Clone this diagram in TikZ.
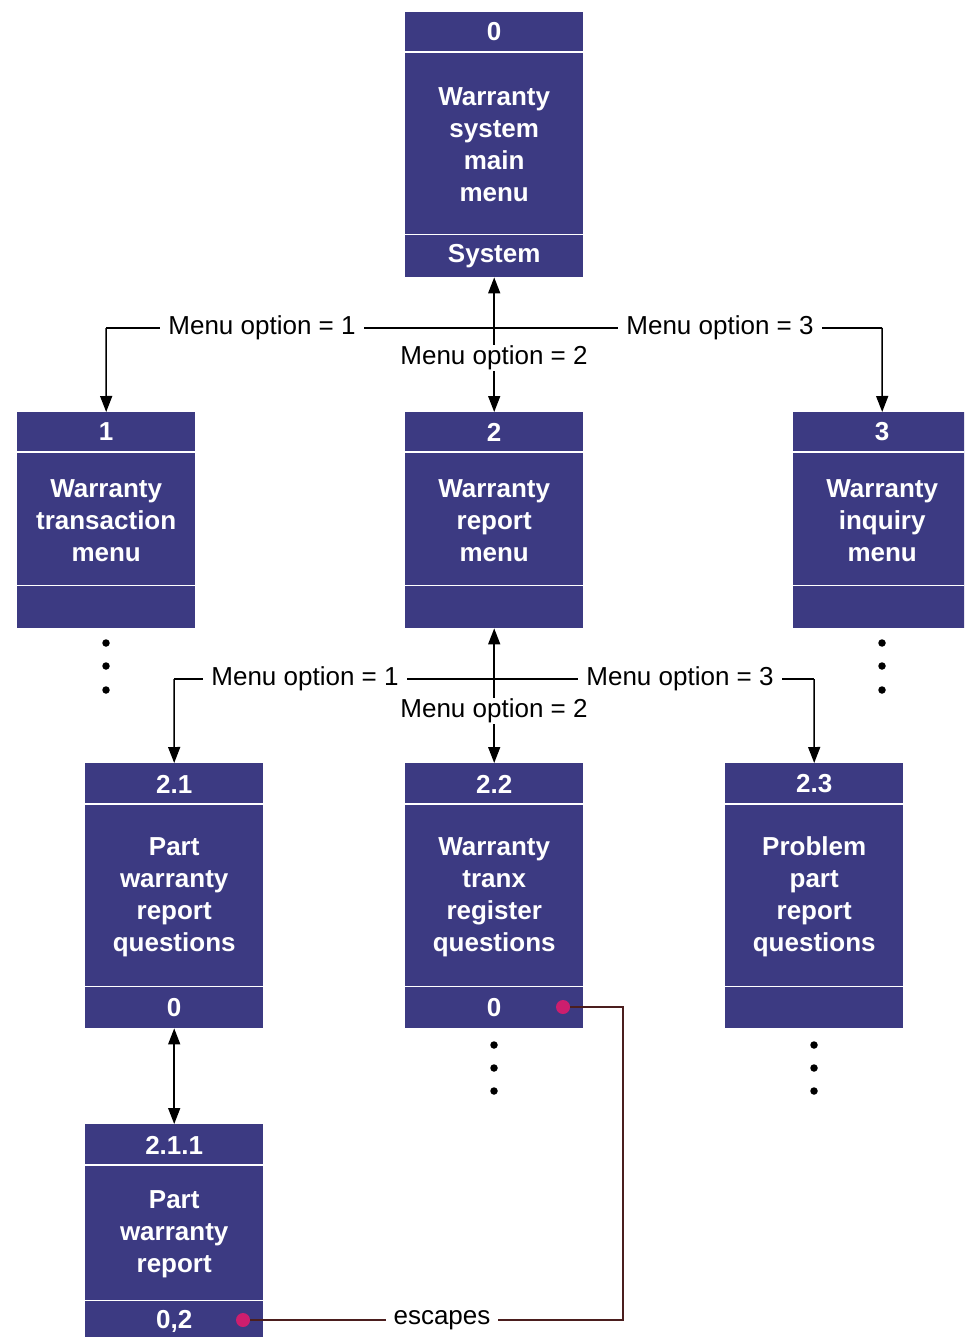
\documentclass[tikz,border=0pt]{standalone}
\usepackage{fontspec}
\setmainfont{Liberation Sans}
\usetikzlibrary{arrows.meta}
\definecolor{boxblue}{RGB}{60,58,130}
\definecolor{escline}{RGB}{75,30,30}
\definecolor{pinkdot}{RGB}{205,30,110}
\begin{document}
\begin{tikzpicture}[x=1pt,y=-1pt,
  mbox/.style={draw=none, fill=boxblue, minimum width=178pt, inner sep=0pt, anchor=north west},
  sepline/.style={white, line width=1.3pt},
  btext/.style={text=white, font=\bfseries\fontsize{26}{32}\selectfont, align=center, inner sep=0pt},
  lbl/.style={font=\fontsize{26}{30}\selectfont, fill=white, inner xsep=8pt, inner ysep=1pt},
  plainline/.style={line width=1.5pt},
  conn/.style={line width=1.5pt, -{Triangle[length=16pt,width=12pt]}},
  dconn/.style={line width=1.5pt, {Triangle[length=16pt,width=12pt]}-{Triangle[length=16pt,width=12pt]}},
  dotn/.style={circle, fill=black, inner sep=0pt, minimum size=7.5pt},
  pdot/.style={circle, fill=pinkdot, inner sep=0pt, minimum size=14pt},
  escl/.style={escline, line width=1.4pt}]
\useasboundingbox (0,0) rectangle (964,1337);
\clip (0,0) rectangle (964,1337);
\fill[white] (0,0) rectangle (964,1337);

% ---------- boxes ----------
% box 0
\node[mbox, minimum height=265pt] (b0) at (405,12) {};
\draw[sepline] ([yshift=-40pt]b0.north west) -- ([yshift=-40pt]b0.north east);
\draw[sepline] ([yshift=43pt]b0.south west) -- ([yshift=43pt]b0.south east);
\node[btext] (b0h) at ([yshift=-20pt]b0.north) {0};
\node[btext] (b0m) at ([yshift=-133pt]b0.north) {Warranty\\system\\main\\menu};
\node[btext] (b0f) at ([yshift=21pt]b0.south) {System};

% box 1
\node[mbox, minimum height=216pt] (b1) at (17,412) {};
\draw[sepline] ([yshift=-40pt]b1.north west) -- ([yshift=-40pt]b1.north east);
\draw[sepline] ([yshift=43pt]b1.south west) -- ([yshift=43pt]b1.south east);
\node[btext] (b1h) at ([yshift=-20pt]b1.north) {1};
\node[btext] (b1m) at ([yshift=-109pt]b1.north) {Warranty\\transaction\\menu};

% box 2
\node[mbox, minimum height=216pt] (b2) at (405,412) {};
\draw[sepline] ([yshift=-40pt]b2.north west) -- ([yshift=-40pt]b2.north east);
\draw[sepline] ([yshift=43pt]b2.south west) -- ([yshift=43pt]b2.south east);
\node[btext] (b2h) at ([yshift=-20pt]b2.north) {2};
\node[btext] (b2m) at ([yshift=-109pt]b2.north) {Warranty\\report\\menu};

% box 3
\node[mbox, minimum height=216pt] (b3) at (793,412) {};
\draw[sepline] ([yshift=-40pt]b3.north west) -- ([yshift=-40pt]b3.north east);
\draw[sepline] ([yshift=43pt]b3.south west) -- ([yshift=43pt]b3.south east);
\node[btext] (b3h) at ([yshift=-20pt]b3.north) {3};
\node[btext] (b3m) at ([yshift=-109pt]b3.north) {Warranty\\inquiry\\menu};

% box 2.1
\node[mbox, minimum height=265pt] (b21) at (85,763) {};
\draw[sepline] ([yshift=-41pt]b21.north west) -- ([yshift=-41pt]b21.north east);
\draw[sepline] ([yshift=42pt]b21.south west) -- ([yshift=42pt]b21.south east);
\node[btext] (b21h) at ([yshift=-21pt]b21.north) {2.1};
\node[btext] (b21m) at ([yshift=-134pt]b21.north) {Part\\warranty\\report\\questions};
\node[btext] (b21f) at ([yshift=21pt]b21.south) {0};

% box 2.2
\node[mbox, minimum height=265pt] (b22) at (405,763) {};
\draw[sepline] ([yshift=-41pt]b22.north west) -- ([yshift=-41pt]b22.north east);
\draw[sepline] ([yshift=42pt]b22.south west) -- ([yshift=42pt]b22.south east);
\node[btext] (b22h) at ([yshift=-21pt]b22.north) {2.2};
\node[btext] (b22m) at ([yshift=-134pt]b22.north) {Warranty\\tranx\\register\\questions};
\node[btext] (b22f) at ([yshift=21pt]b22.south) {0};

% box 2.3
\node[mbox, minimum height=265pt] (b23) at (725,763) {};
\draw[sepline] ([yshift=-41pt]b23.north west) -- ([yshift=-41pt]b23.north east);
\draw[sepline] ([yshift=42pt]b23.south west) -- ([yshift=42pt]b23.south east);
\node[btext] (b23h) at ([yshift=-21pt]b23.north) {2.3};
\node[btext] (b23m) at ([yshift=-134pt]b23.north) {Problem\\part\\report\\questions};

% box 2.1.1
\node[mbox, minimum height=220pt] (b211) at (85,1124) {};
\draw[sepline] ([yshift=-41pt]b211.north west) -- ([yshift=-41pt]b211.north east);
\draw[sepline] ([yshift=44pt]b211.south west) -- ([yshift=44pt]b211.south east);
\node[btext] (b211h) at ([yshift=-21pt]b211.north) {2.1.1};
\node[btext] (b211m) at ([yshift=-110pt]b211.north) {Part\\warranty\\report};
\node[btext] (b211f) at ([yshift=23pt]b211.south) {0,2};

% ---------- connectors level 1 ----------
\coordinate (t1) at (106,328);
\coordinate (t3) at (882,328);
\draw[plainline] (t1) -- (t3);
\draw[conn] (t1) -- (b1.north);
\draw[conn] (t3) -- (b3.north);
\draw[dconn] (b0.south) -- (b2.north);
\node[lbl] (m11) at (262,328) {Menu option = 1};
\node[lbl] (m13) at (720,328) {Menu option = 3};
\node[lbl] (m12) at (494,358) {Menu option = 2};

% ---------- connectors level 2 ----------
\coordinate (u1) at (174,679);
\coordinate (u3) at (814,679);
\draw[plainline] (u1) -- (u3);
\draw[conn] (u1) -- (b21.north);
\draw[conn] (u3) -- (b23.north);
\draw[dconn] (b2.south) -- (b22.north);
\node[lbl] (m21) at (305,679) {Menu option = 1};
\node[lbl] (m23) at (680,679) {Menu option = 3};
\node[lbl] (m22) at (494,711) {Menu option = 2};

% ---------- 2.1 <-> 2.1.1 ----------
\draw[dconn] (b21.south) -- (b211.north);

% ---------- ellipsis dots ----------
\foreach \yy [count=\i] in {643,666,690} {
  \node[dotn] (d1\i) at (106,\yy) {};
  \node[dotn] (d3\i) at (882,\yy) {};
}
\foreach \yy [count=\i] in {1045,1068,1091} {
  \node[dotn] (d22\i) at (494,\yy) {};
  \node[dotn] (d23\i) at (814,\yy) {};
}

% ---------- escapes ----------
\node[pdot] (e1) at (563,1007) {};
\node[pdot] (e2) at (243,1320) {};
\coordinate (ec1) at (623,1007);
\coordinate (ec2) at (623,1320);
\draw[escl] (e1) -- (ec1) -- (ec2) -- (e2);
\node[lbl] (esc) at (442,1320) {escapes};
\end{tikzpicture}
\end{document}
